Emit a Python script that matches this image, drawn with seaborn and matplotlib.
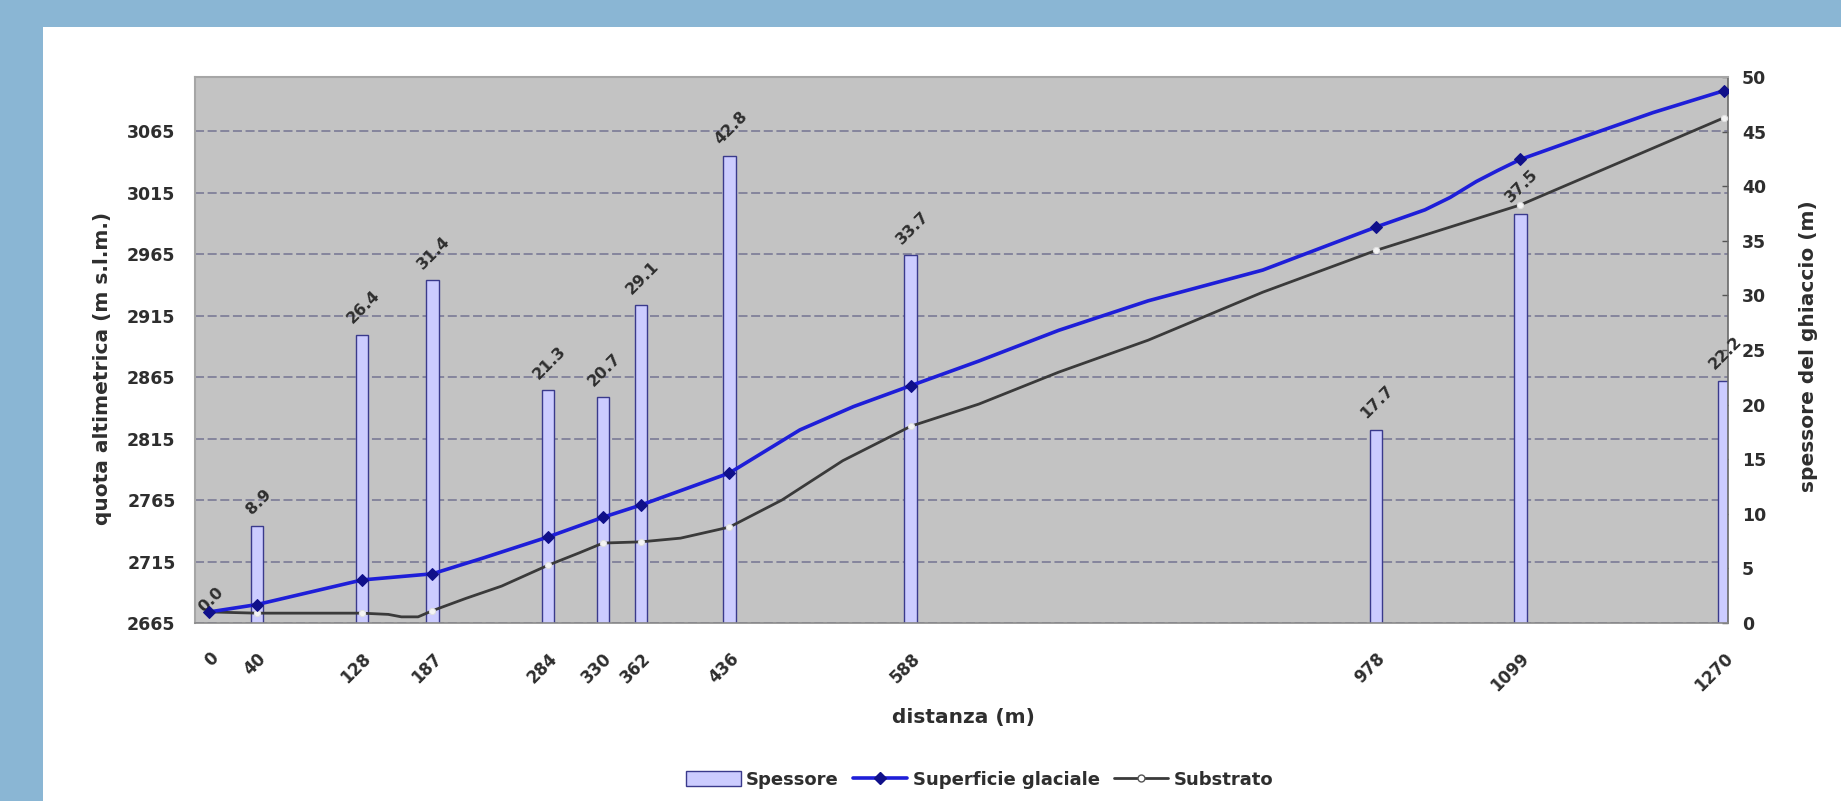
import matplotlib
matplotlib.use("Agg")
import matplotlib.pyplot as plt
from matplotlib.patches import Rectangle, Patch
from matplotlib.lines import Line2D
import numpy as np
import pandas as pd
import seaborn as sns

# --- data -------------------------------------------------------------------
# measurement stations along the profile (m) and ice thickness there (m)
stations = [0, 40, 128, 187, 284, 330, 362, 436, 588, 978, 1099, 1270]
thickness = [0.0, 8.9, 26.4, 31.4, 21.3, 20.7, 29.1, 42.8, 33.7, 17.7, 37.5, 22.2]

# glacier surface profile (distance m, elevation m a.s.l.)
surf_x = [0, 40, 128, 187, 230, 284, 330, 362, 436, 495, 540, 588, 645, 712,
          787, 883, 978, 1019, 1040, 1062, 1080, 1099, 1154, 1210, 1270]
surf_y = [2674, 2680, 2700, 2705, 2718, 2735, 2751, 2761, 2787, 2822, 2841,
          2858, 2878, 2903, 2927, 2952, 2987, 3001, 3011, 3024, 3033, 3042,
          3061, 3080, 3098]

# bedrock profile (distance m, elevation m a.s.l.)
sub_x = [0, 40, 128, 150, 161, 175, 187, 215, 245, 284, 310, 330, 362, 395,
         436, 480, 531, 588, 645, 712, 787, 883, 978, 1099, 1270]
sub_y = [2674, 2673, 2673, 2672, 2670, 2670, 2675, 2685, 2695, 2712, 2722,
         2730, 2731, 2734, 2743, 2765, 2797, 2825, 2843, 2869, 2895, 2934,
         2968, 3005, 3076]

elev_ticks = [2665, 2715, 2765, 2815, 2865, 2915, 2965, 3015, 3065]
thick_ticks = [0, 5, 10, 15, 20, 25, 30, 35, 40, 45, 50]

# --- figure -------------------------------------------------------------------
W, H = 1841, 801
sns.set_theme(style="white")
plt.rcParams["font.family"] = ["DejaVu Sans"]
TXT = "#2e2e2e"

fig = plt.figure(figsize=(W / 100, H / 100), dpi=100)
fig.patch.set_facecolor("#8ab6d4")
fig.add_artist(Rectangle((43 / W, 0), 1, (H - 27) / H, transform=fig.transFigure,
                         facecolor="white", edgecolor="none", zorder=-5))

L, R, T, B = 195, 1728, 77, 623
rect = [L / W, 1 - B / H, (R - L) / W, (B - T) / H]
xlim = (-12, 1273)
ylim_elev = (2665, 3109)

# background + gridlines
ax_grid = fig.add_axes(rect, zorder=0)
ax_grid.set_facecolor("#c3c3c3")
ax_grid.set_xlim(*xlim)
ax_grid.set_ylim(*ylim_elev)
ax_grid.set_yticks(elev_ticks)
ax_grid.set_xticks([])
ax_grid.tick_params(left=False, labelleft=False, bottom=False, labelbottom=False)
ax_grid.grid(axis="y", color="#80809a", linewidth=1.3, linestyle=(0, (5, 2)))
for s in ax_grid.spines.values():
    s.set_visible(False)

# thickness bars (right axis)
ax_bar = fig.add_axes(rect, zorder=1)
ax_bar.patch.set_visible(False)
df_bars = pd.DataFrame({"distanza": stations, "spessore": thickness})
sns.barplot(data=df_bars, x="distanza", y="spessore", native_scale=True,
            width=0.33, color="#ccccff", saturation=1, edgecolor="#3a3a8c",
            linewidth=1.0, errorbar=None, ax=ax_bar)
ax_bar.set_xlim(*xlim)
ax_bar.set_ylim(0, 50)
ax_bar.set_yticks(thick_ticks)
ax_bar.yaxis.tick_right()
ax_bar.yaxis.set_label_position("right")
ax_bar.tick_params(axis="y", right=True, direction="in", length=4, width=1,
                   color="#555555", labelsize=12.5, labelcolor=TXT, pad=10)
ax_bar.set_xticks([])
ax_bar.set_xlabel("")
ax_bar.set_ylabel("")
for lab in ax_bar.get_yticklabels():
    lab.set_fontweight("bold")
for s in ["top", "left", "bottom"]:
    ax_bar.spines[s].set_visible(False)
ax_bar.spines["right"].set_color("#6a6a6a")
ax_bar.spines["right"].set_linewidth(1.2)

for xv, tv in zip(stations, thickness):
    ax_bar.annotate(f"{tv:.1f}", (xv, tv), xytext=(1, 6), textcoords="offset points",
                    rotation=45, ha="center", va="bottom", fontsize=11.5,
                    fontweight="bold", color=TXT, annotation_clip=False)

# elevation profiles (left axis)
ax_line = fig.add_axes(rect, zorder=2)
ax_line.patch.set_visible(False)
surf_marks = [i for i, d in enumerate(surf_x) if d in stations]
sub_marks = [i for i, d in enumerate(sub_x) if d in stations]
sns.lineplot(x=sub_x, y=sub_y, ax=ax_line, estimator=None, errorbar=None,
             color="#3a3a3a", linewidth=2.0, marker="o", markersize=4.5,
             markerfacecolor="#f4f4f4", markeredgecolor="#e0e0e0",
             markevery=sub_marks)
sns.lineplot(x=surf_x, y=surf_y, ax=ax_line, estimator=None, errorbar=None,
             color="#1e1ed8", linewidth=2.6, marker="D", markersize=6.5,
             markerfacecolor="#10108a", markeredgecolor="#10108a",
             markevery=surf_marks)
ax_line.set_xlim(*xlim)
ax_line.set_ylim(*ylim_elev)
ax_line.set_yticks(elev_ticks)
ax_line.set_xticks(stations)
ax_line.set_xticklabels([str(s) for s in stations], rotation=45, ha="right",
                        va="top", rotation_mode="anchor")
ax_line.tick_params(axis="y", left=False, labelsize=12.5, labelcolor=TXT, pad=8)
ax_line.tick_params(axis="x", bottom=False, labelsize=12, labelcolor=TXT, pad=13)
for lab in ax_line.get_yticklabels() + ax_line.get_xticklabels():
    lab.set_fontweight("bold")
ax_line.set_xlabel("")
ax_line.set_ylabel("")
for s in ["top", "left"]:
    ax_line.spines[s].set_color("#a6a6a6")
    ax_line.spines[s].set_linewidth(1.5)
ax_line.spines["right"].set_visible(False)
ax_line.spines["bottom"].set_color("#8a8a8a")
ax_line.spines["bottom"].set_linewidth(1.2)

# axis titles
fig.text(103 / W, 1 - 368 / H, "quota altimetrica (m s.l.m.)", rotation=90,
         ha="center", va="center", fontsize=14.5, fontweight="bold", color=TXT)
fig.text(1808 / W, 1 - 346 / H, "spessore del ghiaccio (m)", rotation=90,
         ha="center", va="center", fontsize=14.5, fontweight="bold", color=TXT)
fig.text(963 / W, 1 - 718 / H, "distanza (m)", ha="center", va="center",
         fontsize=14.5, fontweight="bold", color=TXT)

# legend
handles = [
    Patch(facecolor="#ccccff", edgecolor="#3a3a8c", linewidth=1.0),
    Line2D([], [], color="#1e1ed8", linewidth=2.6, marker="D", markersize=6,
           markerfacecolor="#10108a", markeredgecolor="#10108a"),
    Line2D([], [], color="#3a3a3a", linewidth=2.0, marker="o", markersize=5,
           markerfacecolor="white", markeredgecolor="#555555"),
]
labels = ["Spessore", "Superficie glaciale", "Substrato"]
leg = fig.legend(handles, labels, loc="center", bbox_to_anchor=(980 / W, 1 - 780 / H),
                 ncol=3, frameon=False, fontsize=13, handlelength=3.0,
                 handleheight=0.9, handletextpad=0.3, columnspacing=0.8)
for t in leg.get_texts():
    t.set_fontweight("bold")
    t.set_color(TXT)

fig.savefig("out.png", dpi=100, facecolor=fig.get_facecolor())
